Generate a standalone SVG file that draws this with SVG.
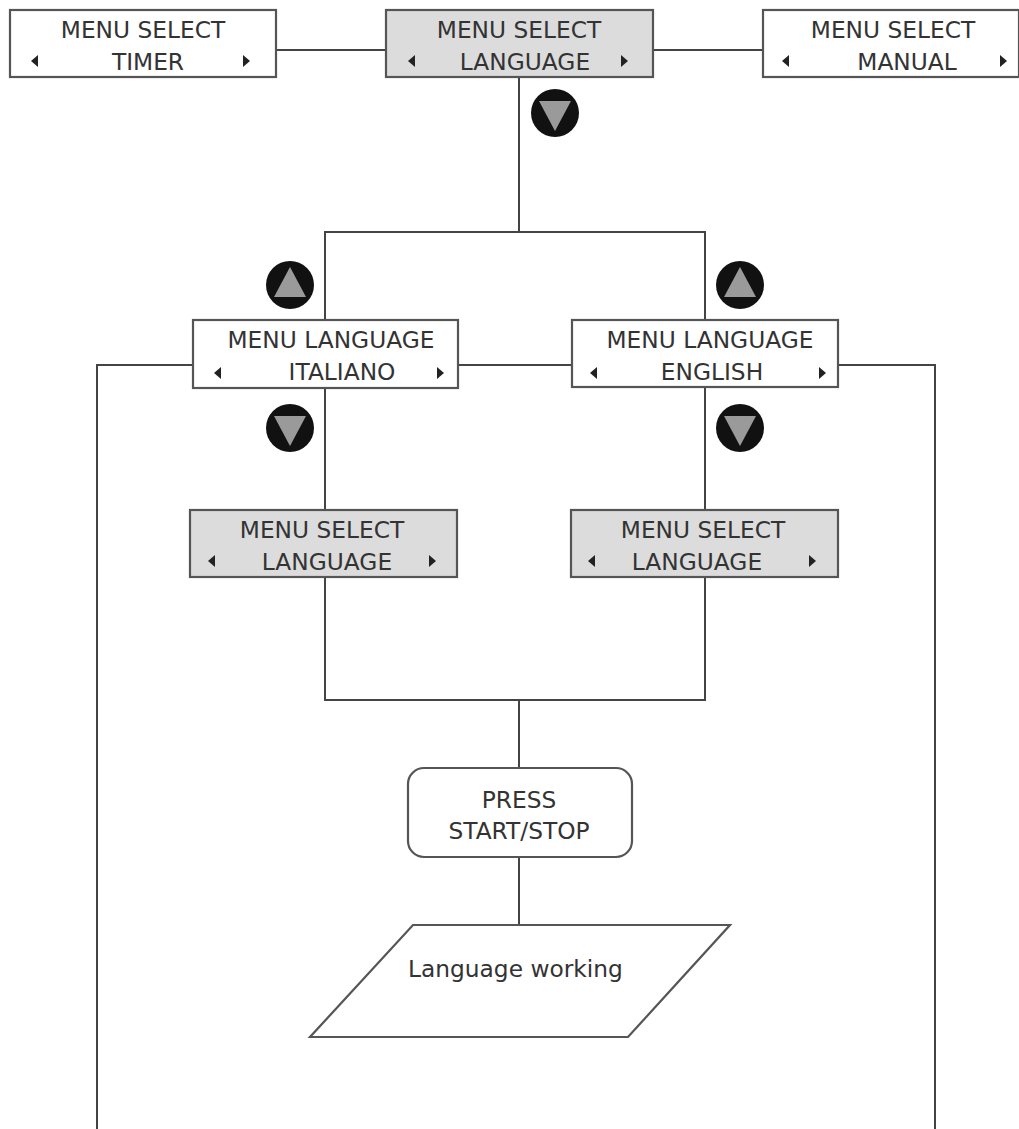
<svg xmlns="http://www.w3.org/2000/svg" width="1019" height="1129" viewBox="0 0 1019 1129">
<defs>
<style>
.box{fill:#fff;stroke:#555;stroke-width:2.2}
.sel{fill:#dcdcdc;stroke:#555;stroke-width:2.2}
.ln{fill:none;stroke:#444;stroke-width:2}
.t{font-family:"DejaVu Sans","Verdana",sans-serif;font-size:23.3px;fill:#333;text-anchor:middle}
.tri{fill:#222}
.btn{fill:#111}
.btri{fill:#9a9a9a}
</style>
<g id="downbtn"><circle cx="0" cy="0" r="24" class="btn"/><polygon points="-16,-12 16,-12 0,18" class="btri"/></g>
<g id="upbtn"><circle cx="0" cy="0" r="24" class="btn"/><polygon points="-16,12 16,12 0,-18" class="btri"/></g>
<polygon id="la" points="5,-6 5,6 -2,0" class="tri"/>
<polygon id="ra" points="-3,-6 -3,6 4,0" class="tri"/>
</defs>
<rect width="1019" height="1129" fill="#fff"/>
<g id="connectors">
<line x1="276" y1="50" x2="386" y2="50" class="ln"/>
<line x1="653" y1="50" x2="763" y2="50" class="ln"/>
<line x1="519" y1="77" x2="519" y2="232" class="ln"/>
<polyline points="325,320 325,232 705,232 705,320" class="ln"/>
<line x1="458" y1="365" x2="572" y2="365" class="ln"/>
<polyline points="193,365 97,365 97,1129" class="ln"/>
<polyline points="838,365 935,365 935,1129" class="ln"/>
<line x1="325" y1="388" x2="325" y2="510" class="ln"/>
<line x1="705" y1="388" x2="705" y2="510" class="ln"/>
<polyline points="325,577 325,700 705,700 705,577" class="ln"/>
<line x1="519" y1="700" x2="519" y2="768" class="ln"/>
<line x1="519" y1="857" x2="519" y2="925" class="ln"/>
<use href="#downbtn" x="555" y="113"/>
<use href="#upbtn" x="290" y="285"/>
<use href="#upbtn" x="740" y="285"/>
<use href="#downbtn" x="290" y="428"/>
<use href="#downbtn" x="740" y="428"/>
</g>
<g id="timer">
<rect x="10" y="10" width="266" height="67" class="box"/>
<text x="143" y="38" class="t">MENU SELECT</text>
<text x="148" y="70" class="t">TIMER</text>
<use href="#la" x="33" y="61"/><use href="#ra" x="246" y="61"/>
</g>
<g id="language">
<rect x="386" y="10" width="267" height="67" class="sel"/>
<text x="519" y="38" class="t">MENU SELECT</text>
<text x="525" y="70" class="t">LANGUAGE</text>
<use href="#la" x="410" y="61"/><use href="#ra" x="624" y="61"/>
</g>
<g id="manual">
<rect x="763" y="10" width="256" height="67" class="box"/>
<text x="893" y="38" class="t">MENU SELECT</text>
<text x="907" y="70" class="t">MANUAL</text>
<use href="#la" x="784" y="61"/><use href="#ra" x="1003" y="61"/>
</g>
<g id="italiano">
<rect x="193" y="320" width="265" height="68" class="box"/>
<text x="331" y="348" class="t">MENU LANGUAGE</text>
<text x="342" y="380" class="t">ITALIANO</text>
<use href="#la" x="216" y="373"/><use href="#ra" x="440" y="373"/>
</g>
<g id="english">
<rect x="572" y="320" width="266" height="67" class="box"/>
<text x="710" y="348" class="t">MENU LANGUAGE</text>
<text x="712" y="380" class="t">ENGLISH</text>
<use href="#la" x="592" y="373"/><use href="#ra" x="822" y="373"/>
</g>
<g id="sel-left">
<rect x="190" y="510" width="267" height="67" class="sel"/>
<text x="322" y="538" class="t">MENU SELECT</text>
<text x="327" y="570" class="t">LANGUAGE</text>
<use href="#la" x="210" y="561"/><use href="#ra" x="432" y="561"/>
</g>
<g id="sel-right">
<rect x="571" y="510" width="267" height="67" class="sel"/>
<text x="703" y="538" class="t">MENU SELECT</text>
<text x="697" y="570" class="t">LANGUAGE</text>
<use href="#la" x="590" y="561"/><use href="#ra" x="812" y="561"/>
</g>
<g id="press">
<rect x="408" y="768" width="224" height="89" rx="16" class="box"/>
<text x="519" y="808" class="t">PRESS</text>
<text x="519" y="839" class="t">START/STOP</text>
</g>
<g id="working">
<polygon points="413,925 730,925 628,1037 310,1037" class="box"/>
<text x="408" y="977" class="t" style="text-anchor:start">Language working</text>
</g>
</svg>
